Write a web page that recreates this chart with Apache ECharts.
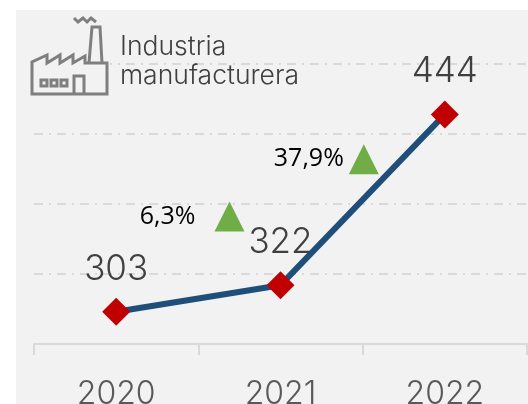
<!DOCTYPE html>
<html><head><meta charset="utf-8">
<style>html,body{margin:0;padding:0;background:#fff;overflow:hidden}#c{width:528px;height:404px}</style>
<script src="https://cdn.jsdelivr.net/npm/echarts@6/dist/echarts.min.js"></script>
</head><body><div id="c"></div>
<script>
const years = ['2020', '2021', '2022'];
const values = [303, 322, 444];
const changeLabels = ['6,3%', '37,9%'];
const changeCategories = ['2021', '2022'];
const changeLevels = [371, 412];
const titleLines = 'Industria\nmanufacturera';
const GREY = '#7f7f7f';
const PANEL = '#f2f2f2';
const stroke = { stroke: GREY, lineWidth: 3, fill: null };
const chart = echarts.init(document.getElementById('c'), null, { renderer: 'canvas' });
chart.setOption({
  animation: false,
  backgroundColor: '#ffffff',
  grid: { left: 34, width: 493, top: 64, height: 280, containLabel: false, outerBoundsMode: 'none' },
  xAxis: {
    type: 'category', data: years, boundaryGap: true,
    axisLine: { show: true, lineStyle: { color: '#d9d9d9', width: 2 } },
    axisTick: { show: true, length: 11, lineStyle: { color: '#d9d9d9', width: 2 } },
    axisLabel: { color: '#595959', fontFamily: 'Inter', fontWeight: 300, fontSize: 32, margin: 34 }
  },
  yAxis: {
    type: 'value', min: 280, max: 480, interval: 50,
    axisLine: { show: false }, axisTick: { show: false }, axisLabel: { show: false },
    splitLine: { show: true, lineStyle: { color: '#d9d9d9', width: 2, type: [9, 6, 2, 6] } }
  },
  graphic: [
    { type: 'rect', z: -10, silent: true, shape: { x: 16, y: 10, width: 512, height: 394 }, style: { fill: PANEL } },
    { type: 'rect', z: 5, silent: true, shape: { x: 30, y: 15, width: 80, height: 81 }, style: { fill: PANEL } },
    { type: 'polygon', z: 6, silent: true, shape: { points: [[32,94],[32,62],[47,55],[47,63],[60,55],[60,63],[73,55],[73,63],[85,56],[85,63],[107,63],[107,94]] }, style: stroke },
    { type: 'polyline', z: 6, silent: true, shape: { points: [[89,63],[92,27],[100,27],[102,63]] }, style: stroke },
    { type: 'polyline', z: 6, silent: true, shape: { points: [[74,18],[78,22],[83,18],[87,22],[91,18],[96,22]] }, style: stroke },
    { type: 'polyline', z: 6, silent: true, shape: { points: [[74,94],[74,76],[84,76],[84,94]] }, style: stroke },
    { type: 'rect', z: 6, silent: true, shape: { x: 41, y: 80, width: 6, height: 6 }, style: stroke },
    { type: 'rect', z: 6, silent: true, shape: { x: 51, y: 80, width: 6, height: 6 }, style: stroke },
    { type: 'rect', z: 6, silent: true, shape: { x: 61, y: 80, width: 6, height: 6 }, style: stroke },
    { type: 'text', z: 6, silent: true, x: 120, y: 33, style: { text: titleLines, fill: '#404040', font: '300 26.5px Inter', lineHeight: 29, textAlign: 'left', textVerticalAlign: 'top' } }
  ],
  series: [
    {
      type: 'line', data: values, z: 3,
      lineStyle: { color: '#1f4e79', width: 6 },
      symbol: 'diamond', symbolSize: 28,
      itemStyle: { color: '#c00000' },
      label: { show: true, position: 'top', distance: 11, color: '#404040', fontFamily: 'Inter', fontWeight: 300, fontSize: 35 }
    },
    {
      type: 'scatter', z: 4, symbol: 'triangle', symbolSize: 30,
      itemStyle: { color: '#70ad47', opacity: 1 },
      data: [
        { value: [changeCategories[0], changeLevels[0]], symbolOffset: [-51, 0], label: { distance: 19 } },
        { value: [changeCategories[1], changeLevels[1]], symbolOffset: [-81, 0], label: { distance: 5 } }
      ],
      label: {
        show: true, position: 'left', color: '#000000', fontFamily: 'Open Sans', fontSize: 25,
        formatter: p => changeLabels[p.dataIndex]
      }
    }
  ]
});
</script></body></html>
